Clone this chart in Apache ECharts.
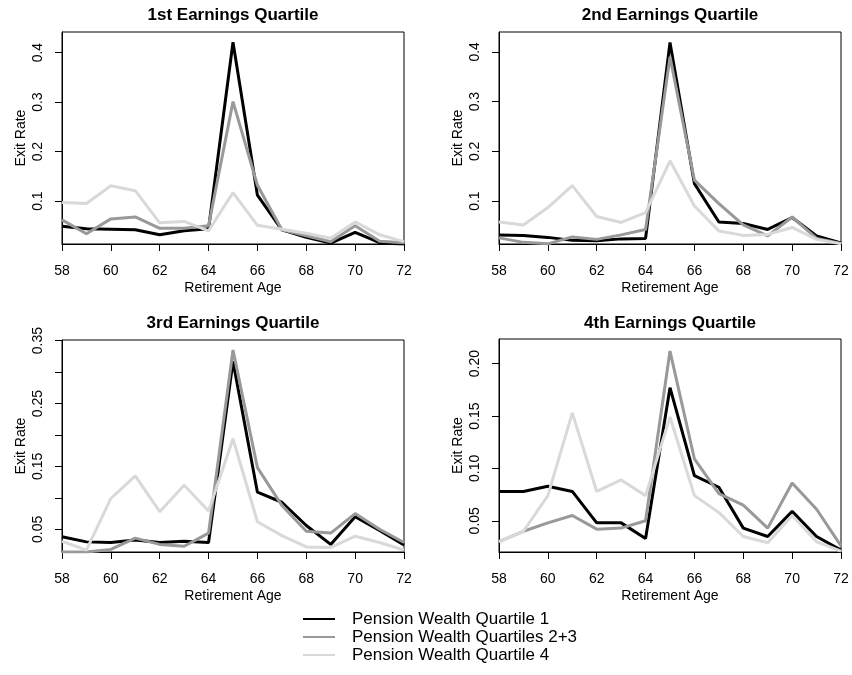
<!DOCTYPE html>
<html>
<head>
<meta charset="utf-8">
<script src="https://cdn.jsdelivr.net/npm/echarts@6.0.0/dist/echarts.min.js"></script>
<style>
html,body{margin:0;padding:0;background:#fff;}
#chart{width:852px;height:675px;}
</style>
</head>
<body>
<div id="chart"></div>
<script>
// ---- Data ----
const ages = [58,59,60,61,62,63,64,65,66,67,68,69,70,71,72];
const seriesNames = ['Pension Wealth Quartile 1','Pension Wealth Quartiles 2+3','Pension Wealth Quartile 4'];
const panelTitles = ['1st Earnings Quartile','2nd Earnings Quartile','3rd Earnings Quartile','4th Earnings Quartile'];

// 1st earnings quartile
const eq1_pw1  = [0.049,0.044,0.043,0.042,0.032,0.040,0.044,0.421,0.112,0.042,0.027,0.015,0.037,0.016,0.013];
const eq1_pw23 = [0.062,0.034,0.064,0.068,0.045,0.045,0.050,0.301,0.132,0.042,0.030,0.018,0.050,0.019,0.016];
const eq1_pw4  = [0.097,0.095,0.131,0.121,0.056,0.059,0.040,0.117,0.051,0.043,0.035,0.025,0.058,0.032,0.018];
// 2nd earnings quartile
const eq2_pw1  = [0.032,0.031,0.027,0.021,0.020,0.024,0.025,0.419,0.135,0.058,0.055,0.043,0.067,0.030,0.016];
const eq2_pw23 = [0.026,0.017,0.014,0.028,0.023,0.032,0.043,0.390,0.142,0.095,0.052,0.030,0.068,0.025,0.015];
const eq2_pw4  = [0.058,0.052,0.087,0.131,0.069,0.057,0.077,0.181,0.090,0.040,0.031,0.033,0.047,0.023,0.014];
// 3rd earnings quartile
const eq3_pw1  = [0.038,0.030,0.029,0.033,0.029,0.031,0.029,0.317,0.109,0.093,0.056,0.026,0.070,0.048,0.025];
const eq3_pw23 = [0.014,0.014,0.018,0.036,0.026,0.023,0.044,0.335,0.148,0.088,0.047,0.044,0.075,0.050,0.029];
const eq3_pw4  = [0.031,0.017,0.099,0.135,0.078,0.120,0.079,0.194,0.062,0.040,0.022,0.021,0.039,0.029,0.017];
// 4th earnings quartile
const eq4_pw1  = [0.078,0.078,0.083,0.078,0.048,0.048,0.033,0.177,0.093,0.082,0.043,0.035,0.059,0.035,0.022];
const eq4_pw23 = [0.030,0.040,0.048,0.055,0.042,0.043,0.050,0.212,0.109,0.076,0.065,0.043,0.086,0.061,0.026];
const eq4_pw4  = [0.030,0.040,0.074,0.153,0.078,0.089,0.074,0.149,0.074,0.058,0.035,0.029,0.055,0.030,0.021];

const panelData = [
  [eq1_pw1, eq1_pw23, eq1_pw4],
  [eq2_pw1, eq2_pw23, eq2_pw4],
  [eq3_pw1, eq3_pw23, eq3_pw4],
  [eq4_pw1, eq4_pw23, eq4_pw4]
];

// y-axis tick marks and tick labels per panel
const yTicks = [
  [0.1,0.2,0.3,0.4],
  [0.1,0.2,0.3,0.4],
  [0.05,0.10,0.15,0.20,0.25,0.30,0.35],
  [0.05,0.10,0.15,0.20]
];
const yLabels = [
  [0.1,0.2,0.3,0.4],
  [0.1,0.2,0.3,0.4],
  [0.05,0.15,0.25,0.35],
  [0.05,0.10,0.15,0.20]
];
const yDecimals = [1,1,2,2];
const yMin = [0.0133,0.0137,0.0139,0.0202];
const yMax = [0.4416,0.4400,0.3510,0.2235];
const xTicks = [58,60,62,64,66,68,70,72];

// ---- Layout / style ----
const FONT = '"Liberation Sans", Arial, Helvetica, sans-serif';
const colors = ['#000000','#999999','#d9d9d9'];
const grids = [
  {left:62, top:32, width:342, height:212},
  {left:499, top:32, width:342, height:212},
  {left:62, top:340, width:342, height:212},
  {left:499, top:339, width:342, height:213}
];
const titleCenters = [[233,7],[670,7],[233,315],[670,315]];

const option = {
  animation:false,
  backgroundColor:'#ffffff',
  title: panelTitles.map((t,i)=>({
    text:t, left:titleCenters[i][0], top:titleCenters[i][1], textAlign:'center', padding:0,
    textStyle:{fontFamily:FONT, fontSize:17, fontWeight:'bold', color:'#000'}
  })),
  grid: grids.map(g=>Object.assign({show:true, borderColor:'#000', borderWidth:1, backgroundColor:'transparent'}, g)),
  xAxis: grids.map((g,i)=>({
    type:'value', gridIndex:i, min:58, max:72, interval:2,
    name:'Retirement Age', nameLocation:'middle', nameGap:37,
    nameTextStyle:{fontFamily:FONT, fontSize:14, color:'#000'},
    axisLine:{show:true, onZero:false, lineStyle:{color:'#000', width:1}},
    axisTick:{show:true, inside:false, length:7, lineStyle:{color:'#000', width:1}, customValues:xTicks},
    axisLabel:{show:true, margin:20, fontFamily:FONT, fontSize:14, color:'#000', customValues:xTicks, formatter:v=>String(v)},
    splitLine:{show:false}
  })),
  yAxis: grids.map((g,i)=>({
    type:'value', gridIndex:i, min:yMin[i], max:yMax[i],
    name:'Exit Rate', nameLocation:'middle', nameGap:34,
    nameTextStyle:{fontFamily:FONT, fontSize:14, color:'#000'},
    axisLine:{show:true, onZero:false, lineStyle:{color:'#000', width:1}},
    axisTick:{show:true, inside:false, length:7, lineStyle:{color:'#000', width:1}, customValues:yTicks[i]},
    axisLabel:{show:true, rotate:90, margin:17, fontFamily:FONT, fontSize:14, color:'#000',
      customValues:yLabels[i], formatter:v=>Number(v).toFixed(yDecimals[i])},
    splitLine:{show:false}
  })),
  legend:{
    orient:'vertical', left:303, top:610, padding:0, itemWidth:32, itemHeight:2, itemGap:0,
    icon:'rect', data:seriesNames,
    textStyle:{fontFamily:FONT, fontSize:17, color:'#000', lineHeight:18, padding:[0,0,0,12]},
    selectedMode:false
  },
  series: []
};

panelData.forEach((arrs,pi)=>{
  arrs.forEach((vals,si)=>{
    option.series.push({
      type:'line', name:seriesNames[si], xAxisIndex:pi, yAxisIndex:pi,
      data: ages.map((a,k)=>[a, vals[k]]),
      showSymbol:false, symbol:'none',
      lineStyle:{color:colors[si], width:3},
      itemStyle:{color:colors[si]},
      z: 2+si
    });
  });
});

const chart = echarts.init(document.getElementById('chart'), null, {renderer:'canvas'});
chart.setOption(option);
</script>
</body>
</html>
